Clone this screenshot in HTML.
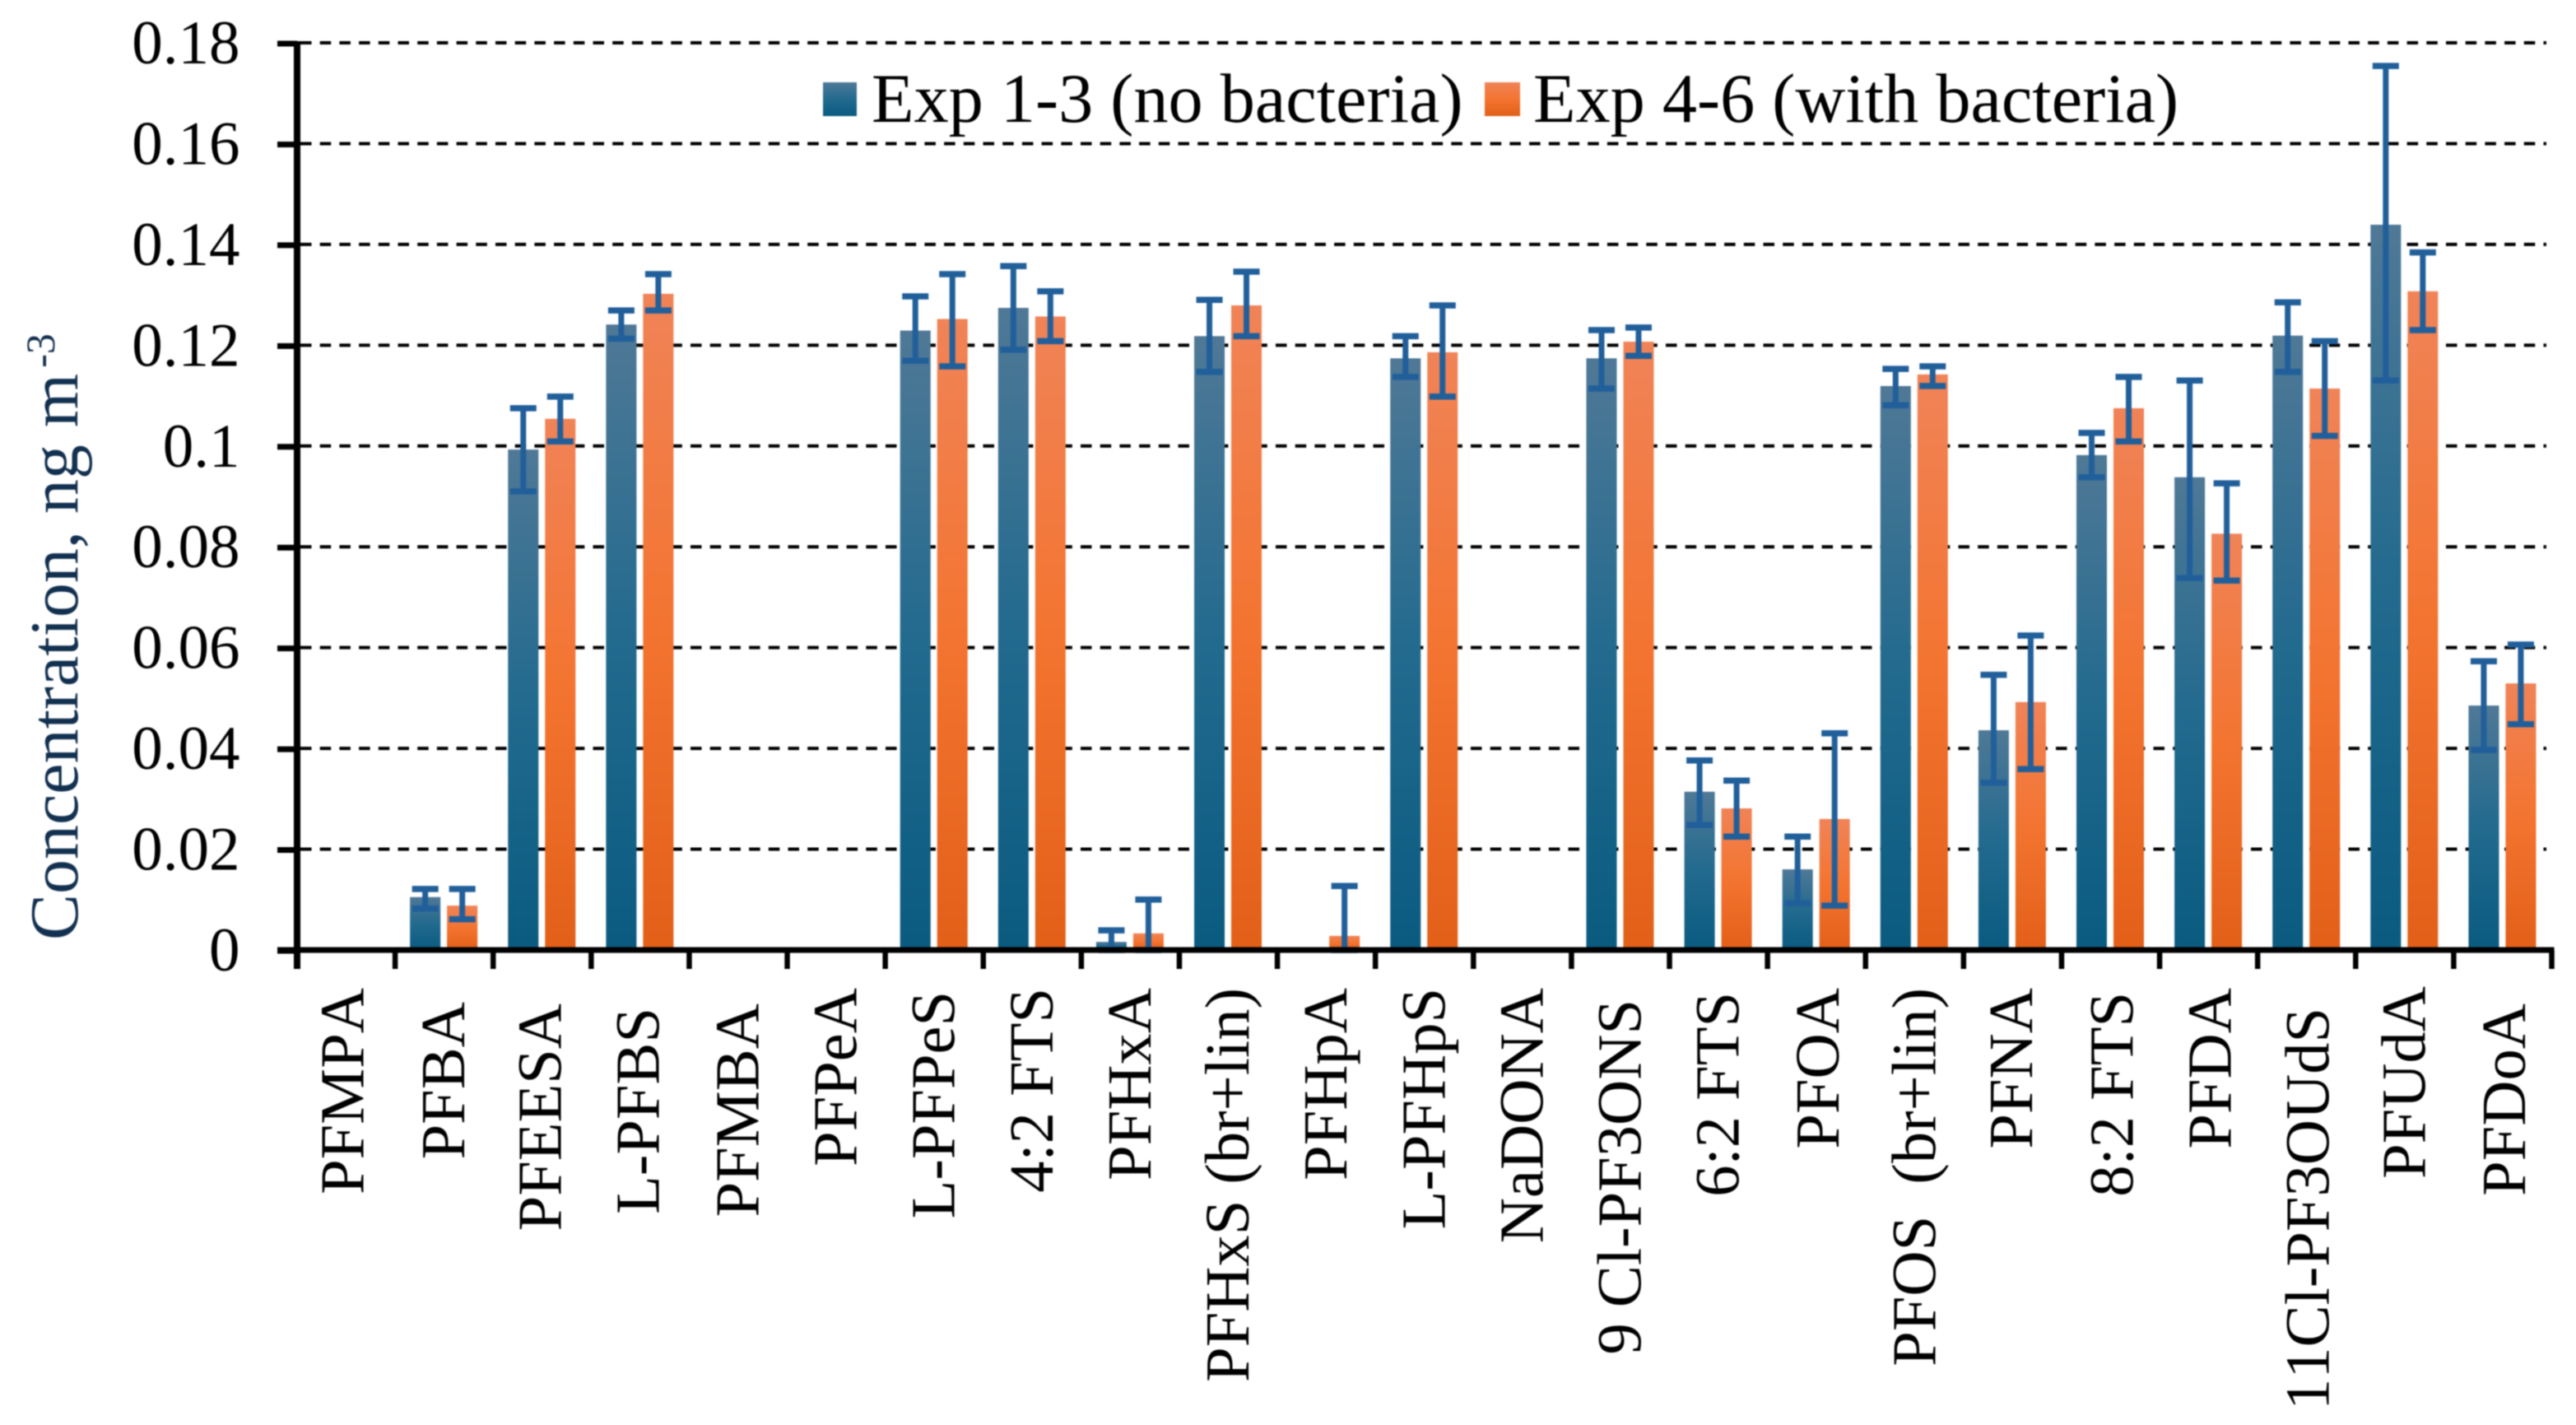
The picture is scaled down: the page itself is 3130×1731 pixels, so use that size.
<!DOCTYPE html>
<html lang="en">
<head>
<meta charset="utf-8">
<title>PFAS concentration chart</title>
<style>
  html, body { margin: 0; padding: 0; background: #ffffff; }
  body { width: 3130px; height: 1731px; overflow: hidden; }
  svg { display: block; filter: blur(0.7px); }
  text { font-family: "Liberation Serif", "Times New Roman", serif; white-space: pre; font-kerning: none; }
</style>
</head>
<body>
<svg id="chart" xmlns="http://www.w3.org/2000/svg" width="3130" height="1731" viewBox="0 0 3130 1731">
  <defs>
    <linearGradient id="blueGrad" x1="0" y1="0" x2="0" y2="1">
      <stop offset="0" stop-color="#4f7896"/>
      <stop offset="0.5" stop-color="#226a8e"/>
      <stop offset="1" stop-color="#0a5a80"/>
    </linearGradient>
    <linearGradient id="orangeGrad" x1="0" y1="0" x2="0" y2="1">
      <stop offset="0" stop-color="#f08357"/>
      <stop offset="0.5" stop-color="#f37430"/>
      <stop offset="1" stop-color="#e25f18"/>
    </linearGradient>
  </defs>
  <rect x="0" y="0" width="3130" height="1731" fill="#ffffff"/>
  <g id="grid"></g>
  <g id="bars"></g>
  <g id="errors"></g>
  <g id="axes"></g>
  <g id="ylabels"></g>
  <g id="xlabels"></g>
  <text transform="translate(94,1142) rotate(-90)" font-size="84" fill="#12304f">Concentration, ng m<tspan dx="7" dy="-28" font-size="50">-3</tspan></text>
  <g>
    <g>
      <rect x="1000" y="100" width="41" height="41" fill="url(#blueGrad)"/>
      <text x="1059" y="148" font-size="84.3" fill="#000">Exp 1-3 (no bacteria)</text>
    </g>
    <g>
      <rect x="1804" y="100" width="43" height="41" fill="url(#orangeGrad)"/>
      <text x="1863" y="148" font-size="84.3" fill="#000">Exp 4-6 (with bacteria)</text>
    </g>
  </g>
</svg>
<script>
const categories = ["PFMPA","PFBA","PFEESA","L-PFBS","PFMBA","PFPeA","L-PFPeS","4:2 FTS","PFHxA","PFHxS (br+lin)","PFHpA","L-PFHpS","NaDONA","9 Cl-PF3ONS","6:2 FTS","PFOA","PFOS  (br+lin)","PFNA","8:2 FTS","PFDA","11Cl-PF3OUdS","PFUdA","PFDoA"];
const exp13Values = [0,0.0105,0.0993,0.1241,0,0,0.1229,0.1274,0.0016,0.1218,0,0.1174,0,0.1174,0.0314,0.016,0.1119,0.0436,0.0982,0.0938,0.1219,0.1439,0.0485];
const exp13Upper = [null,0.0121,0.1075,0.1269,null,null,0.1297,0.1357,0.0039,0.129,null,0.1218,null,0.123,0.0376,0.0225,0.1153,0.0546,0.1026,0.113,0.1285,0.1754,0.0573];
const exp13Lower = [null,0.0082,0.091,0.1213,null,null,0.1169,0.1191,0,0.1147,null,0.1137,null,0.1114,0.0248,0.0093,0.1081,0.0332,0.0938,0.0738,0.1147,0.113,0.0397];
const exp46Values = [0,0.0088,0.1054,0.1302,0,0,0.1252,0.1257,0.0033,0.1279,0.0028,0.1186,0,0.1207,0.0281,0.026,0.1142,0.0492,0.1075,0.0826,0.1114,0.1307,0.0529];
const exp46Upper = [null,0.0121,0.1098,0.1341,null,null,0.1341,0.1307,0.01,0.1346,0.0127,0.1279,null,0.1235,0.0336,0.043,0.1158,0.0624,0.1137,0.0926,0.1208,0.1384,0.0606];
const exp46Lower = [null,0.0061,0.1009,0.1269,null,null,0.1158,0.1208,0,0.1218,0,0.1098,null,0.1179,0.0225,0.0088,0.1119,0.0359,0.1009,0.0733,0.102,0.123,0.0448];
const yTickLabels = ["0","0.02","0.04","0.06","0.08","0.1","0.12","0.14","0.16","0.18"];

const labelTopEdge = [1200,1217,1219,1224,1219,1200,1204,1200,1200,1200,1200,1200,1200,1214,1205,1200,1200,1200,1205,1200,1224,1198,1219];
const labelNudge = [-3.5,0,-2,-2,0,0,0,0,0,0,0,0,0,0,0,2.5,0.5,-1,2.5,2.5,2.5,0,2.5];

const NS = "http://www.w3.org/2000/svg";
const plotLeft = 361, plotRight = 3100.5, plotBottom = 1154, plotTop = 52, yMax = 0.18;
const bandWidth = (plotRight - plotLeft) / categories.length;
function yScale(v) { return plotBottom - (v / yMax) * (plotBottom - plotTop); }
function xCenter(i) { return plotLeft + (i + 0.5) * bandWidth; }
function make(tag, attrs, parent) {
  const node = document.createElementNS(NS, tag);
  for (const k in attrs) node.setAttribute(k, attrs[k]);
  parent.appendChild(node);
  return node;
}
const gridG = document.getElementById("grid");
const barsG = document.getElementById("bars");
const errorsG = document.getElementById("errors");
const axesG = document.getElementById("axes");
const yLabelsG = document.getElementById("ylabels");
const xLabelsG = document.getElementById("xlabels");

yTickLabels.forEach(function (label) {
  const value = parseFloat(label);
  const y = yScale(value);
  if (value > 0) {
    const gridLine = make("line", { x1: 365, x2: 3094, y1: y, y2: y, stroke: "#000", "stroke-width": 4, "stroke-dasharray": "13.5 10.2" }, gridG);
    
    
  }
  const tick = make("line", { x1: 337, x2: 361, y1: y + 1, y2: y + 1, stroke: "#000", "stroke-width": 7 }, axesG);
  
  
  const text = make("text", { x: 291.5, y: y + 25, "text-anchor": "end", "font-size": 75, fill: "#000" }, yLabelsG);
  text.textContent = label;
  
  
});

function drawBar(value, x0, width, fill) {
  if (value <= 0) return;
  const y = yScale(value);
  const bar = make("rect", { x: x0, y: y, width: width, height: plotBottom - y, fill: fill }, barsG);
  
  
}
function drawError(upper, lower, cx) {
  if (upper === null || lower === null) return;
  const color = "#215f9a";
  const yUp = yScale(upper), yLow = yScale(lower);
  const stem = make("line", { x1: cx, x2: cx, y1: yUp, y2: yLow, stroke: color, "stroke-width": 7 }, errorsG);
  
  
  const capTop = make("line", { x1: cx - 16, x2: cx + 16, y1: yUp, y2: yUp, stroke: color, "stroke-width": 7.5 }, errorsG);
  
  
  const capLow = make("line", { x1: cx - 16, x2: cx + 16, y1: yLow, y2: yLow, stroke: color, "stroke-width": 7.5 }, errorsG);
  
  
}

categories.forEach(function (name, i) {
  const c = xCenter(i);
  drawBar(exp13Values[i], c - 41.5, 37, "url(#blueGrad)");
  drawBar(exp46Values[i], c + 3.5, 37, "url(#orangeGrad)");
  drawError(exp13Upper[i], exp13Lower[i], c - 23);
  drawError(exp46Upper[i], exp46Lower[i], c + 22);
  const label = make("text", { transform: "translate(" + (c + 24.5 + labelNudge[i]) + "," + labelTopEdge[i] + ") rotate(-90)", "text-anchor": "end", "font-size": 76.5, fill: "#000" }, xLabelsG);
  label.textContent = name;
  
  
});

for (let i = 0; i <= categories.length; i++) {
  const x = plotLeft + i * bandWidth;
  const tick = make("line", { x1: x, x2: x, y1: plotBottom, y2: 1177, stroke: "#000", "stroke-width": 6.5 }, axesG);
  
  
}
const yAxis = make("line", { x1: plotLeft, x2: plotLeft, y1: 50, y2: 1177, stroke: "#000", "stroke-width": 8 }, axesG);


const xAxis = make("line", { x1: 337, x2: plotRight + 3, y1: plotBottom, y2: plotBottom, stroke: "#000", "stroke-width": 7 }, axesG);


</script>
</body>
</html>
